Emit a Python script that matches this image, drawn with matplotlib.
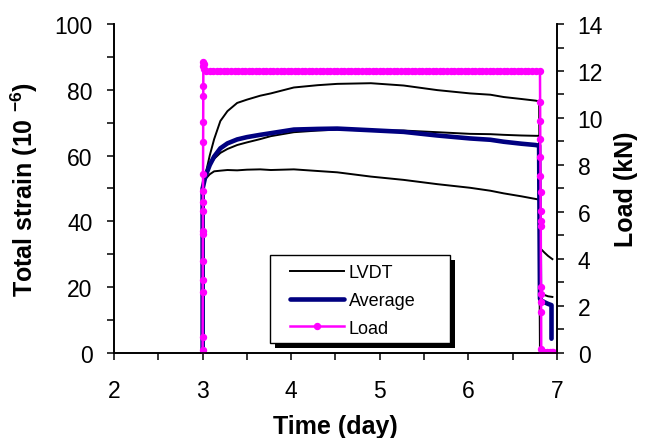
import numpy as np
import matplotlib
matplotlib.use("Agg")
import matplotlib.pyplot as plt
from matplotlib.ticker import MultipleLocator
from matplotlib.patches import Rectangle

plt.rcParams['font.family'] = ['Liberation Sans', 'DejaVu Sans']
plt.rcParams['mathtext.fontset'] = 'custom'
plt.rcParams['mathtext.rm'] = 'Liberation Sans'
plt.rcParams['mathtext.bf'] = 'Liberation Sans:bold'
plt.rcParams['axes.unicode_minus'] = False

# --- strain readings (10^-6) vs time (day) ---
t_strain = [3.0, 3.0, 3.03, 3.08, 3.13, 3.2, 3.28, 3.39, 3.5, 3.65, 3.77, 4.03,
            4.3, 4.52, 4.9, 5.27, 5.65, 6.02, 6.25, 6.4, 6.6, 6.76, 6.8, 6.81,
            6.82, 6.86, 6.9, 6.95]
lvdt_1 = [0, 50, 54, 60, 65, 70.5, 73.5, 76, 77, 78.2, 78.9, 80.7,
          81.4, 81.8, 82.0, 81.3, 79.9, 78.9, 78.5, 77.8, 77.2, 76.7, 76.5, 32,
          31.6, 30.5, 29.5, 28.5]
lvdt_2 = [0, 50, 53.9, 57, 59, 60.8, 62, 63.2, 64, 65, 65.9, 67.1,
          67.6, 67.9, 67.6, 67.6, 67.1, 66.6, 66.5, 66.3, 66.1, 66.0, 66.0, 18.7,
          18.5, 17.6, 17.2, 17.0]
lvdt_3 = [0, 50, 52.8, 54.3, 55.2, 55.4, 55.6, 55.5, 55.7, 55.8, 55.6, 55.8,
          55.3, 54.9, 53.6, 52.6, 51.3, 50.2, 49.3, 48.5, 47.6, 46.8, 46.6, -2,
          -2, -2, -2, -2]

t_avg = [3.0, 3.0, 3.03, 3.08, 3.13, 3.2, 3.28, 3.39, 3.5, 3.65, 3.77, 4.03,
         4.3, 4.52, 4.9, 5.27, 5.65, 6.02, 6.25, 6.4, 6.6, 6.76, 6.8, 6.81,
         6.82, 6.86, 6.9, 6.94, 6.94]
average = [0, 50, 53.6, 57.1, 59.7, 62.2, 63.7, 64.9, 65.6, 66.3, 66.8, 67.9,
           68.1, 68.2, 67.7, 67.2, 66.1, 65.2, 64.8, 64.2, 63.6, 63.2, 63.0, 16.4,
           16.0, 15.4, 14.9, 14.5, 4.3]

# --- load (kN) vs time (day) ---
t_rise = [3.0, 3.0005, 3.001, 3.0015, 3.002, 3.0025, 3.003, 3.0035, 3.004,
          3.0045, 3.005, 3.0055, 3.006, 3.0065, 3.007, 3.0075, 3.008, 3.01, 3.02]
load_rise = [0.1, 0.67, 2.58, 3.08, 3.93, 5.06, 5.2, 6.06, 6.41, 6.9,
             7.62, 8.96, 9.81, 10.94, 11.37, 12.2, 12.37, 12.3, 12.1]
hold_load = 12.0
t_hold = np.round(np.arange(3.04, 6.80, 0.04), 2)
t_drop = [6.81, 6.811, 6.812, 6.813, 6.814, 6.815, 6.816, 6.817, 6.818,
          6.819, 6.82, 6.821, 6.822, 6.823, 6.824, 6.83, 6.86, 6.89, 6.92, 6.95, 6.96]
load_drop = [12.0, 10.67, 9.88, 9.1, 8.33, 7.55, 6.84, 6.06, 5.63, 5.42,
             2.8, 2.51, 2.16, 1.73, 0.17, 0.05, 0.05, 0.05, 0.05, 0.05, 0.05]

t_load = list(t_rise) + list(t_hold) + list(t_drop)
load = list(load_rise) + [hold_load] * len(t_hold) + list(load_drop)

fig = plt.figure(figsize=(6.52, 4.39), dpi=100)
ax = fig.add_axes([0.175, 0.194, 0.679, 0.749])
ax2 = ax.twinx()

h1, = ax.plot(t_strain, lvdt_1, color='black', lw=1.4, label='LVDT')
ax.plot(t_strain, lvdt_2, color='black', lw=1.4)
ax.plot(t_strain, lvdt_3, color='black', lw=1.4)
h2, = ax.plot(t_avg, average, color='#000080', lw=3.3, solid_capstyle='round',
              label='Average')
h3, = ax2.plot(t_load, load, color='#FF00FF', lw=1.8, marker='o', ms=4.3,
               label='Load')

ax.set_xlim(2, 7)
ax.set_ylim(0, 100)
ax2.set_ylim(0, 14)

ax.xaxis.set_major_locator(MultipleLocator(1))
ax.xaxis.set_minor_locator(MultipleLocator(0.5))
ax.yaxis.set_major_locator(MultipleLocator(20))
ax.yaxis.set_minor_locator(MultipleLocator(10))
ax2.yaxis.set_major_locator(MultipleLocator(2))
ax2.yaxis.set_minor_locator(MultipleLocator(1))

for a in (ax, ax2):
    a.tick_params(which='both', direction='out', width=1.1, labelsize=16.5,
                  length=5)
    a.spines['top'].set_visible(False)
    for s in a.spines.values():
        s.set_linewidth(1.2)
ax.tick_params(axis='x', pad=13.5)
ax.tick_params(axis='y', pad=10.5)
ax2.tick_params(axis='y', pad=10)

ax.set_xlabel('Time (day)', fontsize=18, fontweight='bold', labelpad=9)
ax.set_ylabel(r'Total strain (10 $^{\mathbf{-6}}$)', fontsize=18,
              fontweight='bold', labelpad=10)
ax2.set_ylabel('Load (kN)', fontsize=18, fontweight='bold', labelpad=8)

# legend box with a solid drop shadow
fx0, fx1, fy0, fy1 = 0.352, 0.758, 0.030, 0.298
sx, sy = 5 / 443, 5 / 329
ax2.add_patch(Rectangle((fx0 + sx, fy0 - sy), fx1 - fx0, fy1 - fy0,
                        transform=ax2.transAxes, facecolor='black',
                        edgecolor='none', zorder=5, clip_on=False))
ax2.add_patch(Rectangle((fx0, fy0), fx1 - fx0, fy1 - fy0,
                        transform=ax2.transAxes, facecolor='white',
                        edgecolor='black', lw=1.0, zorder=5.1, clip_on=False))
leg = ax2.legend(handles=[h1, h2, h3], loc='upper left',
                 bbox_to_anchor=(0.397, 0.270), frameon=False,
                 fontsize=13, handlelength=3.0, handletextpad=0.25,
                 labelspacing=0.6, borderpad=0, borderaxespad=0)
leg.set_zorder(6)

fig.savefig('out.png', dpi=100)
